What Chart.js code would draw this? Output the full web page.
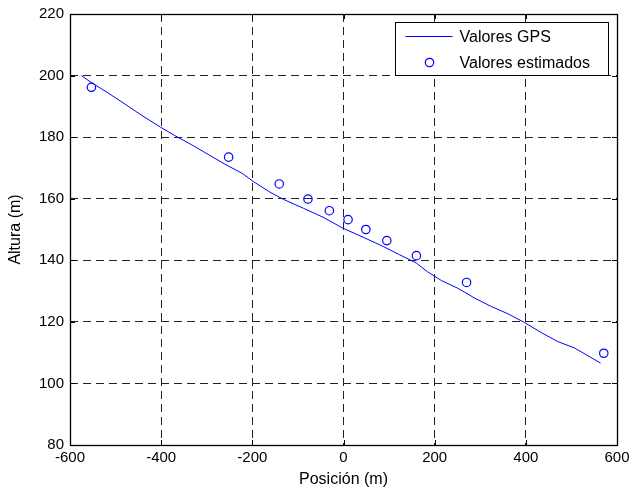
<!DOCTYPE html>
<html>
<head>
<meta charset="utf-8">
<script src="https://cdn.jsdelivr.net/npm/chart.js@4.4.1/dist/chart.umd.min.js"></script>
<style>
  body { margin: 0; background: #fff; }
</style>
</head>
<body>
<canvas id="alturaChart" width="631" height="493"></canvas>
<script>
// GPS track
var gpsPos = [-575, -556, -519, -479, -442, -401, -370, -333, -297, -260, -223, -198, -161, -132, -88, -45, -1, 43, 87, 123, 160, 184, 215, 251, 288, 324, 361, 397, 434, 470, 507, 564];
var gpsAlt = [200.0, 198.0, 194.6, 190.7, 187.0, 183.2, 180.5, 177.5, 174.4, 171.2, 168.3, 165.6, 162.1, 159.8, 156.9, 154.0, 150.4, 147.5, 144.5, 141.8, 139.1, 136.3, 133.4, 130.9, 127.7, 125.0, 122.6, 119.8, 116.5, 113.6, 111.5, 106.6];

// estimated heights
var estPos = [-553, -252, -141, -78, -31, 10, 49, 95, 160, 270, 571];
var estAlt = [196.2, 173.5, 164.8, 159.9, 156.1, 153.2, 150.0, 146.4, 141.5, 132.8, 109.8];

var xTicks = [-600, -400, -200, 0, 200, 400, 600];
var yTicks = [80, 100, 120, 140, 160, 180, 200, 220];

var azul = '#0000ff';

Chart.defaults.font.family = '"Liberation Sans", Arial, sans-serif';
Chart.defaults.font.size = 15;
Chart.defaults.color = '#000';

function toPoints(xs, ys) {
  return xs.map(function (x, i) { return { x: x, y: ys[i] }; });
}

// box round the plot and inner tick marks, like matlab
var marco = {
  id: 'marco',
  beforeDatasetsDraw: function (chart) {
    var a = chart.chartArea, c = chart.ctx;
    var sx = chart.scales.x, sy = chart.scales.y;
    c.save();
    c.strokeStyle = '#000';
    c.lineWidth = 1;
    c.beginPath();
    xTicks.forEach(function (v) {
      var px = Math.round(sx.getPixelForValue(v)) + 0.5;
      c.moveTo(px, a.bottom); c.lineTo(px, a.bottom - 5);
      c.moveTo(px, a.top); c.lineTo(px, a.top + 5);
    });
    yTicks.forEach(function (v) {
      var py = Math.round(sy.getPixelForValue(v)) + 0.5;
      c.moveTo(a.left, py); c.lineTo(a.left + 5, py);
      c.moveTo(a.right, py); c.lineTo(a.right - 5, py);
    });
    c.stroke();
    c.lineWidth = 1.3;
    c.strokeRect(Math.round(a.left) + 0.5, Math.round(a.top) + 0.5,
      Math.round(a.right - a.left), Math.round(a.bottom - a.top));
    c.restore();
  }
};

// legend box in the upper right corner
var leyenda = {
  id: 'leyenda',
  afterDraw: function (chart) {
    var a = chart.chartArea, c = chart.ctx;
    var ds = chart.data.datasets;
    var w = 213, h = 53;
    var x0 = Math.round(a.right - 9 - w) + 0.5, y0 = Math.round(a.top + 8) + 0.5;
    c.save();
    c.fillStyle = '#fff';
    c.fillRect(x0, y0, w, h);
    c.strokeStyle = '#000';
    c.lineWidth = 1;
    c.strokeRect(x0, y0, w, h);

    var r1 = y0 + 14, r2 = y0 + 40;
    c.strokeStyle = azul;
    c.beginPath();
    c.moveTo(x0 + 10, r1); c.lineTo(x0 + 57, r1);
    c.stroke();
    c.beginPath();
    c.arc(x0 + 34, r2, 4.2, 0, Math.PI * 2);
    c.lineWidth = 1.2;
    c.stroke();

    c.fillStyle = '#000';
    c.font = '16px "Liberation Sans", Arial, sans-serif';
    c.textBaseline = 'middle';
    c.fillText(ds[0].label, x0 + 64, r1 + 1);
    c.fillText(ds[1].label, x0 + 64, r2 + 1);
    c.restore();
  }
};

var ctx = document.getElementById('alturaChart');
var alturaChart = new Chart(ctx, {
  type: 'scatter',
  data: {
    datasets: [{
      label: 'Valores GPS',
      data: toPoints(gpsPos, gpsAlt),
      showLine: true,
      borderColor: azul,
      borderWidth: 1,
      pointRadius: 0,
      tension: 0
    }, {
      label: 'Valores estimados',
      data: toPoints(estPos, estAlt),
      showLine: false,
      borderColor: azul,
      backgroundColor: 'rgba(0,0,0,0)',
      borderWidth: 1.2,
      pointRadius: 4.2,
      pointStyle: 'circle'
    }]
  },
  options: {
    responsive: false,
    animation: false,
    events: [],
    layout: {
      padding: { left: 0, right: 14, top: 14, bottom: 0 }
    },
    plugins: {
      legend: { display: false },
      tooltip: { enabled: false }
    },
    scales: {
      x: {
        type: 'linear',
        min: -600,
        max: 600,
        afterBuildTicks: function (s) {
          s.ticks = xTicks.map(function (v) { return { value: v }; });
        },
        afterFit: function (s) {
          s.height = 48;
          s.paddingLeft = 0;
          s.paddingRight = 0;
        },
        ticks: { padding: 4, maxRotation: 0 },
        grid: {
          color: '#222',
          lineWidth: 1,
          drawTicks: false
        },
        border: { display: false, dash: [8, 5] },
        title: {
          display: true,
          text: 'Posición (m)',
          font: { size: 16 },
          padding: { top: 0, bottom: 4 }
        }
      },
      y: {
        type: 'linear',
        min: 80,
        max: 220,
        afterBuildTicks: function (s) {
          s.ticks = yTicks.map(function (v) { return { value: v }; });
        },
        afterFit: function (s) {
          s.width = 70;
          s.paddingTop = 0;
          s.paddingBottom = 0;
        },
        ticks: { padding: 6 },
        grid: {
          color: '#222',
          lineWidth: 1,
          drawTicks: false
        },
        border: { display: false, dash: [8, 5] },
        title: {
          display: true,
          text: 'Altura (m)',
          font: { size: 16 },
          padding: { top: 6, bottom: 0 }
        }
      }
    }
  },
  plugins: [marco, leyenda]
});
</script>
</body>
</html>
